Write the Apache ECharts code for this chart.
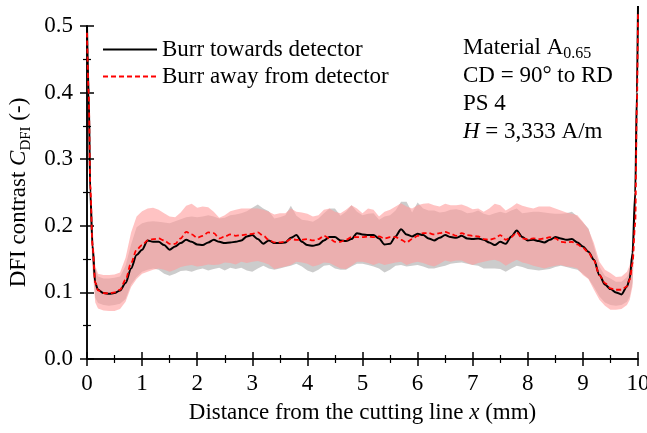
<!DOCTYPE html>
<html>
<head>
<meta charset="utf-8">
<script src="https://cdn.jsdelivr.net/npm/echarts@6/dist/echarts.min.js"></script>
<style>html,body{margin:0;padding:0;background:#fff}#chart{width:647px;height:433px}</style>
</head>
<body>
<div id="chart"></div>
<script>
// Distance from the cutting line x (mm)
const xs = [0, 0.03, 0.06, 0.1, 0.15,
  0.2, 0.3, 0.4, 0.5, 0.6, 0.7, 0.8, 0.9,
  1.0, 1.1, 1.2, 1.3, 1.4, 1.5, 1.6, 1.7, 1.8, 1.9,
  2.0, 2.1, 2.2, 2.3, 2.4, 2.5, 2.6, 2.7, 2.8, 2.9,
  3.0, 3.1, 3.2, 3.3, 3.4, 3.5, 3.6, 3.7, 3.8, 3.9,
  4.0, 4.1, 4.2, 4.3, 4.4, 4.5, 4.6, 4.7, 4.8, 4.9,
  5.0, 5.1, 5.2, 5.3, 5.4, 5.5, 5.6, 5.7, 5.8, 5.9,
  6.0, 6.1, 6.2, 6.3, 6.4, 6.5, 6.6, 6.7, 6.8, 6.9,
  7.0, 7.1, 7.2, 7.3, 7.4, 7.5, 7.6, 7.7, 7.8, 7.9,
  8.0, 8.1, 8.2, 8.3, 8.4, 8.5, 8.6, 8.7, 8.8, 8.9,
  9.0, 9.1, 9.2, 9.3, 9.4, 9.5, 9.6, 9.7, 9.8,
  9.85, 9.9, 9.95, 9.98, 10];

// Burr towards detector: mean and band
const towardsMean = [0.50, 0.40, 0.25, 0.17, 0.114,
  0.104, 0.099, 0.098, 0.099, 0.103, 0.114, 0.136, 0.156,
  0.164, 0.178, 0.176, 0.176, 0.171, 0.164, 0.169, 0.174, 0.179, 0.176,
  0.172, 0.171, 0.175, 0.179, 0.176, 0.174, 0.175, 0.176, 0.178, 0.184,
  0.186, 0.180, 0.173, 0.178, 0.174, 0.174, 0.175, 0.182, 0.186, 0.176,
  0.171, 0.170, 0.172, 0.178, 0.183, 0.183, 0.178, 0.177, 0.180, 0.189,
  0.187, 0.186, 0.186, 0.181, 0.172, 0.173, 0.184, 0.195, 0.187, 0.184,
  0.188, 0.186, 0.181, 0.178, 0.182, 0.186, 0.183, 0.182, 0.185, 0.181,
  0.180, 0.181, 0.179, 0.175, 0.171, 0.176, 0.173, 0.184, 0.193, 0.183,
  0.178, 0.179, 0.177, 0.175, 0.179, 0.183, 0.181, 0.179, 0.180, 0.175,
  0.169, 0.161, 0.149, 0.126, 0.112, 0.105, 0.100, 0.097, 0.109,
  0.121, 0.159, 0.25, 0.40, 0.53];
const towardsHi = [0.50, 0.43, 0.28, 0.19, 0.135,
  0.124, 0.121, 0.121, 0.122, 0.124, 0.140, 0.172, 0.198,
  0.204, 0.206, 0.207, 0.206, 0.205, 0.204, 0.207, 0.210, 0.213, 0.214,
  0.213, 0.214, 0.216, 0.214, 0.211, 0.212, 0.216, 0.217, 0.219, 0.222,
  0.227, 0.232, 0.226, 0.222, 0.211, 0.213, 0.216, 0.230, 0.215, 0.209,
  0.208, 0.206, 0.211, 0.219, 0.226, 0.226, 0.215, 0.221, 0.231, 0.221,
  0.216, 0.218, 0.219, 0.209, 0.214, 0.216, 0.223, 0.236, 0.236, 0.220,
  0.235, 0.226, 0.223, 0.223, 0.220, 0.221, 0.224, 0.225, 0.223, 0.219,
  0.220, 0.223, 0.218, 0.216, 0.219, 0.221, 0.219, 0.223, 0.226, 0.219,
  0.220, 0.221, 0.221, 0.220, 0.219, 0.218, 0.218, 0.219, 0.221, 0.214,
  0.205, 0.196, 0.169, 0.139, 0.125, 0.121, 0.116, 0.116, 0.123,
  0.131, 0.154, 0.28, 0.43, 0.50];
const towardsLo = [0.46, 0.37, 0.22, 0.145, 0.092,
  0.084, 0.081, 0.080, 0.081, 0.083, 0.090, 0.112, 0.123,
  0.131, 0.134, 0.136, 0.134, 0.128, 0.125, 0.128, 0.132, 0.133, 0.131,
  0.134, 0.136, 0.133, 0.135, 0.137, 0.133, 0.137, 0.135, 0.137, 0.133,
  0.131, 0.136, 0.140, 0.136, 0.134, 0.136, 0.138, 0.140, 0.143, 0.139,
  0.133, 0.130, 0.134, 0.140, 0.141, 0.136, 0.134, 0.134, 0.139, 0.143,
  0.143, 0.141, 0.139, 0.136, 0.130, 0.134, 0.140, 0.141, 0.139, 0.140,
  0.141, 0.139, 0.136, 0.136, 0.138, 0.140, 0.143, 0.144, 0.145, 0.143,
  0.141, 0.140, 0.136, 0.136, 0.136, 0.135, 0.131, 0.136, 0.140, 0.138,
  0.135, 0.134, 0.133, 0.134, 0.135, 0.138, 0.140, 0.138, 0.136, 0.134,
  0.128, 0.121, 0.108, 0.094, 0.085, 0.081, 0.080, 0.081, 0.086,
  0.094, 0.114, 0.22, 0.37, 0.47];

// Burr away from detector: mean and band
const awayMean = [0.49, 0.40, 0.26, 0.17, 0.115,
  0.103, 0.099, 0.0985, 0.100, 0.104, 0.119, 0.144, 0.164,
  0.171, 0.178, 0.180, 0.181, 0.178, 0.173, 0.173, 0.181, 0.191, 0.187,
  0.182, 0.185, 0.190, 0.189, 0.181, 0.184, 0.187, 0.185, 0.186, 0.187,
  0.188, 0.190, 0.185, 0.179, 0.175, 0.175, 0.176, 0.180, 0.179, 0.179,
  0.180, 0.178, 0.180, 0.185, 0.181, 0.176, 0.176, 0.179, 0.183, 0.183,
  0.183, 0.184, 0.183, 0.184, 0.181, 0.183, 0.183, 0.179, 0.175, 0.180,
  0.185, 0.189, 0.189, 0.187, 0.189, 0.191, 0.188, 0.185, 0.189, 0.186,
  0.185, 0.184, 0.180, 0.179, 0.181, 0.186, 0.179, 0.183, 0.190, 0.181,
  0.180, 0.181, 0.180, 0.181, 0.183, 0.181, 0.176, 0.175, 0.176, 0.172,
  0.167, 0.160, 0.148, 0.126, 0.114, 0.106, 0.104, 0.104, 0.109,
  0.119, 0.144, 0.204, 0.38, 0.52];
const awayHi = [0.50, 0.44, 0.29, 0.20, 0.140,
  0.128, 0.126, 0.126, 0.127, 0.130, 0.152, 0.190, 0.214,
  0.222, 0.226, 0.227, 0.224, 0.219, 0.214, 0.213, 0.220, 0.230, 0.233,
  0.227, 0.229, 0.228, 0.221, 0.212, 0.216, 0.222, 0.224, 0.226, 0.226,
  0.226, 0.226, 0.224, 0.221, 0.217, 0.219, 0.219, 0.226, 0.221, 0.220,
  0.218, 0.214, 0.216, 0.224, 0.226, 0.221, 0.219, 0.224, 0.231, 0.226,
  0.219, 0.226, 0.224, 0.214, 0.221, 0.224, 0.229, 0.234, 0.229, 0.226,
  0.231, 0.233, 0.234, 0.231, 0.229, 0.233, 0.231, 0.231, 0.232, 0.229,
  0.225, 0.226, 0.221, 0.226, 0.233, 0.231, 0.223, 0.228, 0.234, 0.230,
  0.228, 0.226, 0.229, 0.229, 0.229, 0.226, 0.223, 0.220, 0.218, 0.216,
  0.206, 0.195, 0.174, 0.146, 0.134, 0.129, 0.123, 0.124, 0.131,
  0.141, 0.164, 0.29, 0.44, 0.50];
const awayLo = [0.45, 0.36, 0.21, 0.135, 0.085,
  0.076, 0.073, 0.072, 0.072, 0.075, 0.086, 0.108, 0.120,
  0.128, 0.131, 0.134, 0.136, 0.134, 0.131, 0.134, 0.138, 0.140, 0.141,
  0.139, 0.140, 0.142, 0.141, 0.142, 0.145, 0.144, 0.142, 0.146, 0.144,
  0.146, 0.147, 0.145, 0.142, 0.135, 0.137, 0.139, 0.141, 0.146, 0.145,
  0.143, 0.139, 0.141, 0.145, 0.144, 0.140, 0.136, 0.135, 0.140, 0.146,
  0.146, 0.144, 0.141, 0.144, 0.141, 0.143, 0.145, 0.146, 0.141, 0.144,
  0.146, 0.144, 0.141, 0.139, 0.143, 0.148, 0.146, 0.148, 0.148, 0.144,
  0.141, 0.144, 0.146, 0.148, 0.149, 0.146, 0.140, 0.145, 0.149, 0.145,
  0.143, 0.140, 0.138, 0.136, 0.138, 0.140, 0.141, 0.139, 0.138, 0.136,
  0.126, 0.120, 0.104, 0.089, 0.080, 0.074, 0.074, 0.075, 0.081,
  0.089, 0.109, 0.20, 0.35, 0.46];

const seriesNames = ['Burr towards detector', 'Burr away from detector'];
const FONT = '"Liberation Serif", "Times New Roman", serif';

function pairs(ys) { return xs.map((x, i) => [x, ys[i]]); }

function band(hi, lo, color) {
  return {
    type: 'custom', silent: true, clip: true, z: 1,
    data: [[0, 0]],
    renderItem: function (params, api) {
      const pts = [];
      for (let i = 0; i < xs.length; i++) pts.push(api.coord([xs[i], hi[i]]));
      for (let i = xs.length - 1; i >= 0; i--) pts.push(api.coord([xs[i], lo[i]]));
      return { type: 'polygon', shape: { points: pts }, style: { fill: color, stroke: null } };
    }
  };
}

const axisLine = { show: true, lineStyle: { color: '#000', width: 1.5 } };
const tick = { show: true, inside: false, length: 7, lineStyle: { color: '#000', width: 1.5 } };
const minor = { show: true, splitNumber: 2, length: 4, lineStyle: { color: '#000', width: 1.2 } };

const chart = echarts.init(document.getElementById('chart'), null, { renderer: 'canvas' });
chart.setOption({
  animation: false,
  backgroundColor: '#fff',
  grid: { left: 87, right: 9, top: 26, bottom: 74, containLabel: false, outerBoundsMode: 'none' },
  legend: {
    data: seriesNames,
    orient: 'vertical', left: 97, top: 33,
    itemWidth: 54, itemHeight: 14, itemGap: 4,
    itemStyle: { opacity: 0 },
    textStyle: { fontFamily: FONT, fontSize: 23, color: '#000' }
  },
  xAxis: [{
    type: 'value', min: 0, max: 10, interval: 1, position: 'bottom',
    axisLine: axisLine, axisTick: tick, minorTick: minor,
    splitLine: { show: false },
    axisLabel: { fontFamily: FONT, fontSize: 23, color: '#000', margin: 13 },
    name: 'Distance from the cutting line {i|x} (mm)',
    nameLocation: 'middle', nameGap: 42,
    nameTextStyle: { fontFamily: FONT, fontSize: 23, color: '#000',
      rich: { i: { fontFamily: FONT, fontSize: 23, fontStyle: 'italic', color: '#000' } } }
  }, {
    type: 'value', min: 0, max: 10, interval: 1, position: 'top',
    axisLine: axisLine, axisTick: tick, minorTick: minor,
    splitLine: { show: false }, axisLabel: { show: false }
  }],
  yAxis: [{
    type: 'value', min: 0, max: 0.5, interval: 0.1, position: 'left',
    axisLine: axisLine, axisTick: tick, minorTick: minor,
    splitLine: { show: false },
    axisLabel: { fontFamily: FONT, fontSize: 23, color: '#000', margin: 14,
      formatter: v => v.toFixed(1) },
    name: '{n|DFI contrast }{i|C}{s|DFI}{n| (-)}',
    nameLocation: 'middle', nameRotate: 90, nameGap: 50,
    nameTextStyle: { fontFamily: FONT, fontSize: 23, color: '#000',
      rich: {
        n: { fontFamily: FONT, fontSize: 23, color: '#000', lineHeight: 28 },
        i: { fontFamily: FONT, fontSize: 23, fontStyle: 'italic', color: '#000', lineHeight: 28 },
        s: { fontFamily: FONT, fontSize: 15, color: '#000', lineHeight: 15, padding: [13, 0, 0, 0] }
      } }
  }, {
    type: 'value', min: 0, max: 0.5, interval: 0.1, position: 'right',
    axisLine: axisLine, axisTick: tick, minorTick: minor,
    splitLine: { show: false }, axisLabel: { show: false }
  }],
  graphic: [{
    type: 'text', left: 463, top: 34, z: 100,
    style: {
      text: '{n|Material A}{s|0.65}\n{n|CD = 90° to RD}\n{n|PS 4}\n{i|H}{n| = 3,333 A/m}',
      fill: '#000',
      rich: {
        n: { fontFamily: FONT, fontSize: 23, fill: '#000', lineHeight: 28 },
        i: { fontFamily: FONT, fontSize: 23, fontStyle: 'italic', fill: '#000', lineHeight: 28 },
        s: { fontFamily: FONT, fontSize: 16, fill: '#000', lineHeight: 16, padding: [12, 0, 0, 0] }
      }
    }
  }],
  series: [
    band(towardsHi, towardsLo, 'rgba(0,0,0,0.2)'),
    band(awayHi, awayLo, 'rgba(255,155,155,0.6)'),
    {
      name: seriesNames[0], type: 'line', data: pairs(towardsMean),
      symbol: 'none', smooth: 0.3, smoothMonotone: 'x', clip: false, z: 3,
      lineStyle: { color: '#000', width: 2 }, itemStyle: { color: '#000' }
    },
    {
      name: seriesNames[1], type: 'line', data: pairs(awayMean),
      symbol: 'none', smooth: 0.3, smoothMonotone: 'x', clip: false, z: 4,
      lineStyle: { color: '#ff0000', width: 1.8, type: [5, 3] }, itemStyle: { color: '#ff0000' }
    }
  ]
});
</script>
</body>
</html>
